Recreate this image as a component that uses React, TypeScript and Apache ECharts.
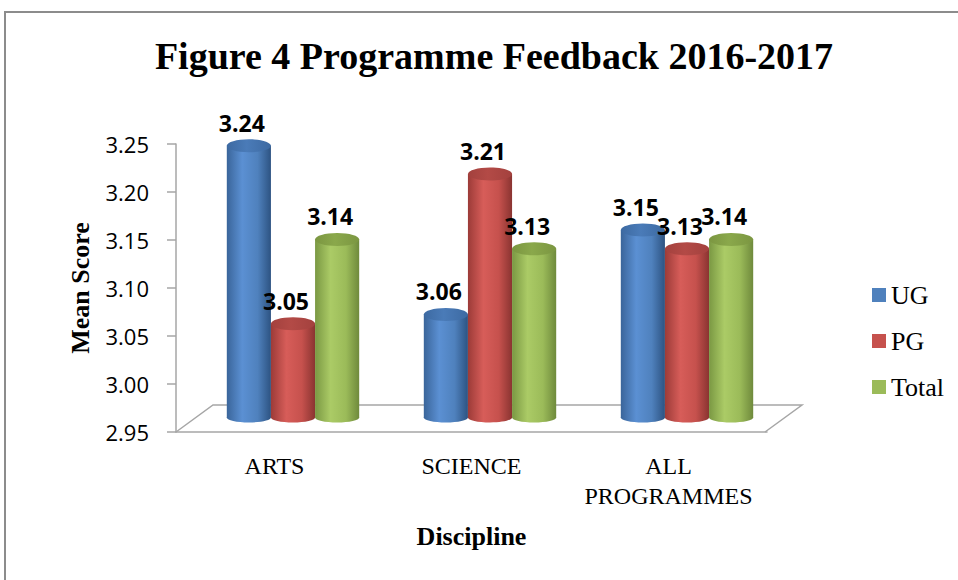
import React, { useEffect, useRef } from "react";
import * as echarts from "echarts";

// ---- data ----
const categories = ["ARTS", "SCIENCE", "ALL\nPROGRAMMES"];
const seriesNames = ["UG", "PG", "Total"];
const ugValues = [3.24, 3.06, 3.15];
const pgValues = [3.05, 3.21, 3.13];
const totalValues = [3.14, 3.13, 3.14];
const Y_MIN = 2.95;
const Y_MAX = 3.25;
const Y_INTERVAL = 0.05;

// ---- styling ----
const DEPTH_X = 37;
const DEPTH_Y = 27;
const PERSPECTIVE = 0.976;

const palettes = [
  { edgeL: "#3a659a", light: "#5b90d3", mid: "#4f81bd", edgeR: "#2d5382", top: "#3d6aa2", topLight: "#4a7bb8" },
  { edgeL: "#9c3b38", light: "#d75d59", mid: "#c6514d", edgeR: "#8a3431", top: "#a3413e", topLight: "#b34a46" },
  { edgeL: "#7a9843", light: "#abcb66", mid: "#9bbb59", edgeR: "#6f8a3c", top: "#7b9641", topLight: "#8aa84b" },
];

function bodyGrad(p: any) {
  return new echarts.graphic.LinearGradient(0, 0, 1, 0, [
    { offset: 0, color: p.edgeL },
    { offset: 0.35, color: p.light },
    { offset: 0.7, color: p.mid },
    { offset: 1, color: p.edgeR },
  ]);
}
function topGrad(p: any) {
  return new echarts.graphic.LinearGradient(0, 0, 1, 0, [
    { offset: 0, color: p.top },
    { offset: 0.45, color: p.topLight },
    { offset: 1, color: p.top },
  ]);
}

function makeBarRender(k: number) {
  const pal = palettes[k];
  return (params: any, api: any) => {
    const j = api.value(0);
    const v = api.value(1);
    const p = api.coord([j, v]);
    const b = api.coord([j, Y_MIN]);
    const catW = api.size([1, 0])[0];
    const w = catW * 0.224;
    const cx = p[0] + DEPTH_X / 2 + (k - 1) * w;
    const baseY = b[1] - DEPTH_Y / 2 - 1;
    const topY = baseY - (b[1] - p[1]) * PERSPECTIVE;
    return {
      type: "group",
      children: [
        { type: "ellipse", shape: { cx, cy: baseY, rx: w / 2, ry: 5 }, style: { fill: bodyGrad(pal) } },
        { type: "rect", shape: { x: cx - w / 2, y: topY, width: w, height: baseY - topY }, style: { fill: bodyGrad(pal) } },
        { type: "ellipse", shape: { cx, cy: topY, rx: w / 2, ry: 6.5 }, style: { fill: topGrad(pal) } },
        {
          type: "text",
          x: cx - 7,
          y: topY - 23,
          style: {
            text: Number(v).toFixed(2),
            fill: "#000",
            fontSize: 23,
            fontWeight: "bold",
            fontFamily: "'Open Sans', sans-serif",
            align: "center",
            verticalAlign: "middle",
          },
        },
      ],
    };
  };
}

function floorRender(params: any) {
  const cs = params.coordSys;
  const x0 = cs.x;
  const x1 = cs.x + cs.width - 2;
  const yb = cs.y + cs.height;
  return {
    type: "polyline",
    shape: {
      points: [
        [x0, yb],
        [x0 + DEPTH_X, yb - DEPTH_Y],
        [x1 + DEPTH_X, yb - DEPTH_Y],
        [x1, yb],
      ],
    },
    style: { stroke: "#a6a6a6", lineWidth: 1.5, fill: "none" },
  };
}

const valueSets = [ugValues, pgValues, totalValues];

export default function App() {
  const ref = useRef<HTMLDivElement>(null);
  useEffect(() => {
    if (!ref.current) return;
    const chart = echarts.init(ref.current, null, { renderer: "svg" });
    const option: any = {
      animation: false,
      backgroundColor: "#fff",
      title: {
        text: "Figure 4 Programme Feedback 2016-2017",
        left: 489,
        textAlign: "center",
        top: 32,
        textStyle: {
          fontFamily: "'Liberation Serif', 'Times New Roman', serif",
          fontWeight: "bold",
          fontSize: 38,
          color: "#000",
        },
      },
      legend: {
        data: seriesNames,
        orient: "vertical",
        left: 867,
        top: 277,
        itemWidth: 14,
        itemHeight: 14,
        itemGap: 20,
        icon: "rect",
        textStyle: {
          fontFamily: "'Liberation Serif', 'Times New Roman', serif",
          fontSize: 26,
          lineHeight: 25,
          color: "#000",
        },
      },
      grid: { left: 176, right: 191, top: 144, bottom: 148 },
      xAxis: {
        type: "category",
        data: categories,
        name: "Discipline",
        nameLocation: "middle",
        nameGap: 91,
        nameTextStyle: {
          fontFamily: "'Liberation Serif', 'Times New Roman', serif",
          fontWeight: "bold",
          fontSize: 26,
          lineHeight: 26,
          color: "#000",
        },
        axisLine: { lineStyle: { color: "#a6a6a6", width: 1.5 } },
        axisTick: { length: 10, lineStyle: { color: "#a6a6a6", width: 1.5 } },
        axisLabel: {
          interval: 0,
          margin: 19,
          fontFamily: "'Liberation Serif', 'Times New Roman', serif",
          fontSize: 24,
          lineHeight: 30,
          color: "#000",
        },
      },
      yAxis: {
        type: "value",
        min: Y_MIN,
        max: Y_MAX,
        interval: Y_INTERVAL,
        name: "Mean Score",
        nameLocation: "middle",
        nameGap: 83,
        nameTextStyle: {
          fontFamily: "'Liberation Serif', 'Times New Roman', serif",
          fontWeight: "bold",
          fontSize: 26,
          lineHeight: 26,
          color: "#000",
        },
        splitLine: { show: false },
        axisLine: { show: true, lineStyle: { color: "#a6a6a6", width: 1.5 } },
        axisTick: { show: true, length: 9, lineStyle: { color: "#a6a6a6", width: 1.5 } },
        axisLabel: {
          margin: 27,
          formatter: (v: number) => v.toFixed(2),
          fontFamily: "'Open Sans', sans-serif",
          fontSize: 22,
          color: "#000",
        },
      },
      graphic: [
        {
          type: "rect",
          shape: { x: 5, y: 12, width: 1000, height: 620 },
          style: { fill: "none", stroke: "#8c8c8c", lineWidth: 2 },
          silent: true,
        },
      ],
      series: [
        {
          name: "floor",
          type: "custom",
          silent: true,
          z: 1,
          renderItem: floorRender,
          data: [[0, Y_MIN]],
        },
        ...seriesNames.map((name, k) => ({
          name,
          type: "custom",
          z: 2 + k,
          itemStyle: { color: palettes[k].mid },
          renderItem: makeBarRender(k),
          encode: { x: 0, y: 1 },
          data: valueSets[k].map((v, j) => [j, v]),
        })),
      ],
    };
    chart.setOption(option);
    return () => chart.dispose();
  }, []);
  return (
    <div
      ref={ref}
      style={{ position: "absolute", left: 0, top: 0, width: 958, height: 580 }}
    />
  );
}
